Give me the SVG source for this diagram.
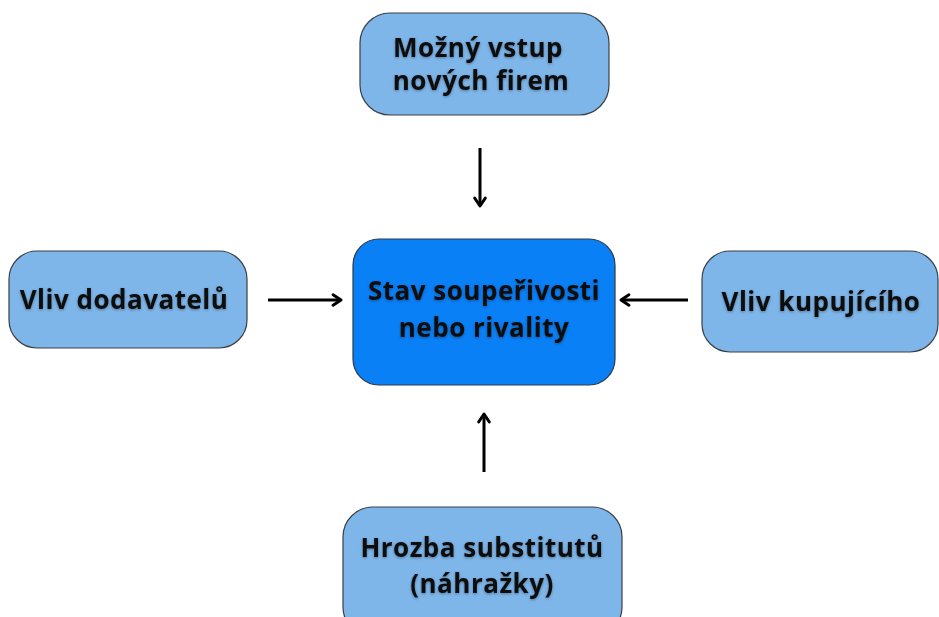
<svg xmlns="http://www.w3.org/2000/svg" width="939" height="617" viewBox="0 0 939 617">
<defs>
<style>
.node{fill:#7eb6ea;stroke:#3a3f45;stroke-width:1.2}
.core{fill:#0a80f7;stroke:#2a3a4a;stroke-width:1.2}
.lbl{font-family:"Open Sans","Liberation Sans",sans-serif;font-weight:700;font-size:26px;letter-spacing:0.5px;fill:#111;text-anchor:middle;filter:url(#sh)}
.conn{stroke:#000;stroke-width:3;fill:none;marker-end:url(#ah)}
</style>
<filter id="sh" x="-10%" y="-30%" width="120%" height="160%">
<feDropShadow dx="0" dy="1" stdDeviation="1.5" flood-color="#000" flood-opacity="0.35"/>
</filter>
<marker id="ah" viewBox="0 0 10 10" refX="8" refY="5" markerWidth="4.4" markerHeight="4.4" orient="auto" markerUnits="strokeWidth">
<polyline points="2,1 8,5 2,9" fill="none" stroke="#000" stroke-width="2.2" stroke-linecap="round" stroke-linejoin="round"/>
</marker>
</defs>
<rect width="939" height="617" fill="#fff"/>
<g id="connectors">
<line class="conn" x1="480" y1="148" x2="480" y2="206"/>
<line class="conn" x1="268" y1="300" x2="341" y2="300"/>
<line class="conn" x1="688" y1="300" x2="621" y2="300"/>
<line class="conn" x1="484" y1="472" x2="484" y2="414"/>
</g>
<g id="n-top">
<rect class="node" x="360" y="13" width="249" height="102" rx="30"/>
<text class="lbl" x="478" y="57">Možný vstup</text>
<text class="lbl" x="481" y="90">nových firem</text>
</g>
<g id="n-center">
<rect class="core" x="353" y="239" width="262" height="146" rx="26"/>
<text class="lbl" x="484" y="300">Stav soupeřivosti</text>
<text class="lbl" x="484" y="337">nebo rivality</text>
</g>
<g id="n-left">
<rect class="node" x="9" y="251" width="238" height="97" rx="28"/>
<text class="lbl" x="124" y="309">Vliv dodavatelů</text>
</g>
<g id="n-right">
<rect class="node" x="702" y="251" width="236" height="101" rx="28"/>
<text class="lbl" x="821" y="311">Vliv kupujícího</text>
</g>
<g id="n-bottom">
<rect class="node" x="343" y="507" width="279" height="130" rx="30"/>
<text class="lbl" x="482" y="557">Hrozba substitutů</text>
<text class="lbl" x="482" y="593">(náhražky)</text>
</g>
</svg>
